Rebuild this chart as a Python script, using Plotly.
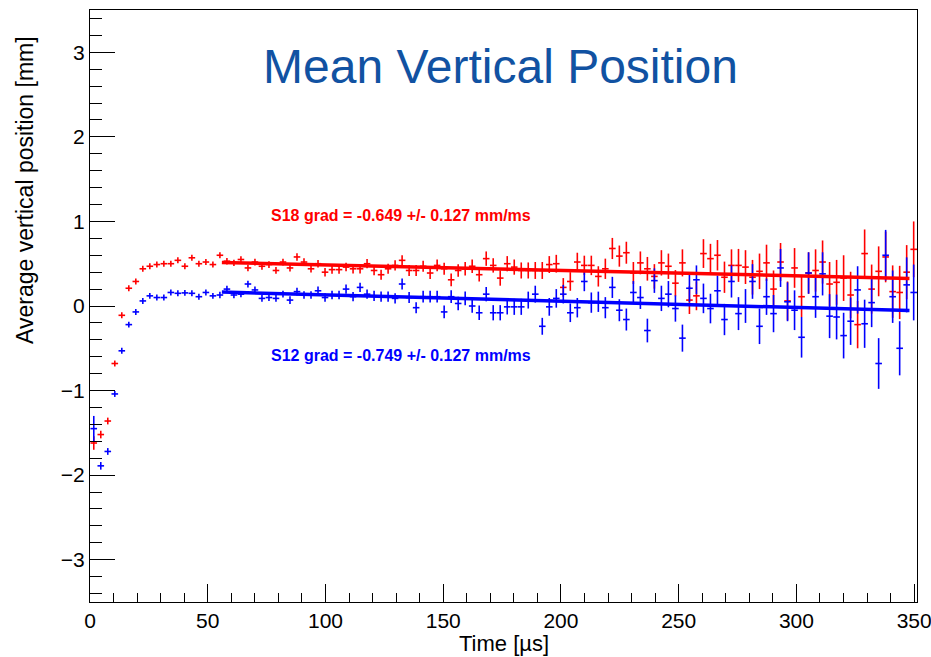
import plotly.graph_objects as go

# ---------------- data ----------------
bin_width = 2.976          # µs
first_center = 1.6         # µs
n_bins = 118

s18_vals = [
    -1.62, -1.52, -1.36, -0.68, -0.11, 0.21, 0.29, 0.44, 0.47, 0.49,
    0.50, 0.50, 0.54, 0.47, 0.57, 0.50, 0.52, 0.49, 0.60, 0.53,
    0.51, 0.55, 0.45, 0.52, 0.47, 0.49, 0.42, 0.52, 0.45, 0.58,
    0.52, 0.44, 0.50, 0.40, 0.43, 0.43, 0.46, 0.44, 0.44, 0.50,
    0.42, 0.37, 0.44, 0.48, 0.54, 0.42, 0.42, 0.47, 0.39, 0.48,
    0.44, 0.31, 0.42, 0.44, 0.47, 0.37, 0.56, 0.48, 0.33, 0.50,
    0.46, 0.42, 0.42, 0.42, 0.42, 0.49, 0.50, 0.22, 0.29, 0.52,
    0.48, 0.48, 0.35, 0.44, 0.68, 0.59, 0.63, 0.39, 0.51, 0.44,
    0.35, 0.51, 0.47, 0.27, 0.51, 0.07, 0.12, 0.62, 0.56, 0.60,
    0.34, 0.48, 0.48, 0.46, 0.34, 0.41, 0.51, 0.20, 0.52, 0.06,
    0.45, 0.11, 0.39, 0.42, 0.52, 0.26, 0.28, 0.33, 0.13, -0.22,
    0.62, 0.20, 0.41, 0.58, 0.17, 0.16, 0.40, 0.67,
]

s12_vals = [
    -1.45, -1.89, -1.72, -1.04, -0.53, -0.22, -0.07, 0.06, 0.12, 0.10,
    0.10, 0.16, 0.15, 0.155, 0.15, 0.11, 0.16, 0.12, 0.13, 0.20,
    0.13, 0.14, 0.26, 0.19, 0.09, 0.10, 0.09, 0.14, 0.07, 0.17,
    0.13, 0.13, 0.18, 0.10, 0.13, 0.13, 0.20, 0.11, 0.22, 0.14,
    0.12, 0.11, 0.11, 0.09, 0.26, 0.10, -0.02, 0.11, 0.11, 0.11,
    -0.07, 0.11, 0.03, 0.09, 0.00, -0.08, 0.14, -0.08, -0.08, -0.01,
    -0.01, -0.01, 0.07, 0.14, -0.24, -0.01, 0.09, 0.14, -0.08, -0.02,
    0.29, 0.04, 0.05, -0.02, 0.22, -0.05, -0.16, 0.16, 0.10, -0.29,
    0.30, 0.09, 0.14, -0.03, -0.38, 0.21, 0.31, 0.09, -0.03, 0.18,
    -0.16, 0.29, -0.09, 0.00, 0.29, -0.24, 0.11, -0.09, 0.45, 0.05,
    -0.05, -0.37, 0.39, 0.11, 0.38, -0.12, -0.13, -0.35, -0.18, 0.19,
    -0.21, 0.04, -0.68, 0.60, 0.11, -0.50, 0.25, 0.16,
]

s18_err = [
    0.08, 0.045, 0.04, 0.035, 0.035, 0.035, 0.035, 0.035, 0.035, 0.035,
    0.035, 0.035, 0.035, 0.035, 0.035, 0.035, 0.035, 0.035, 0.035, 0.038,
    0.038, 0.038, 0.038, 0.04, 0.04, 0.04, 0.04, 0.04, 0.042, 0.045,
    0.045, 0.045, 0.045, 0.05, 0.05, 0.05, 0.05, 0.055, 0.055, 0.055,
    0.055, 0.06, 0.06, 0.06, 0.06, 0.065, 0.065, 0.065, 0.07, 0.07,
    0.07, 0.075, 0.075, 0.08, 0.08, 0.08, 0.085, 0.085, 0.09, 0.09,
    0.09, 0.095, 0.095, 0.10, 0.10, 0.10, 0.105, 0.11, 0.11, 0.11,
    0.115, 0.115, 0.12, 0.12, 0.125, 0.125, 0.13, 0.13, 0.135, 0.14,
    0.145, 0.15, 0.15, 0.155, 0.16, 0.165, 0.17, 0.17, 0.175, 0.18,
    0.185, 0.19, 0.195, 0.20, 0.205, 0.21, 0.215, 0.22, 0.225, 0.23,
    0.235, 0.24, 0.245, 0.25, 0.255, 0.26, 0.265, 0.27, 0.275, 0.28,
    0.285, 0.29, 0.295, 0.30, 0.31, 0.315, 0.32, 0.33,
]

s12_err = [
    0.15, 0.045, 0.04, 0.035, 0.035, 0.035, 0.035, 0.035, 0.035, 0.035,
    0.035, 0.035, 0.035, 0.035, 0.035, 0.035, 0.035, 0.035, 0.038, 0.038,
    0.038, 0.038, 0.04, 0.04, 0.04, 0.04, 0.04, 0.04, 0.045, 0.045,
    0.045, 0.045, 0.05, 0.05, 0.05, 0.05, 0.055, 0.055, 0.055, 0.055,
    0.06, 0.06, 0.06, 0.06, 0.065, 0.065, 0.065, 0.07, 0.07, 0.07,
    0.075, 0.075, 0.08, 0.08, 0.08, 0.085, 0.085, 0.09, 0.09, 0.09,
    0.095, 0.095, 0.10, 0.10, 0.10, 0.105, 0.11, 0.11, 0.11, 0.115,
    0.115, 0.12, 0.12, 0.125, 0.125, 0.13, 0.13, 0.135, 0.135, 0.14,
    0.145, 0.15, 0.155, 0.155, 0.16, 0.165, 0.17, 0.175, 0.175, 0.18,
    0.185, 0.19, 0.195, 0.20, 0.205, 0.21, 0.215, 0.22, 0.225, 0.23,
    0.235, 0.24, 0.245, 0.25, 0.255, 0.26, 0.265, 0.27, 0.28, 0.28,
    0.285, 0.29, 0.30, 0.30, 0.31, 0.32, 0.325, 0.33,
]

# linear fits (value at t=0 in mm, gradient in mm/µs), fit window in µs
fit_range = [56.0, 348.0]
s18_fit = {"p0": 0.551, "grad": -0.649e-3}
s12_fit = {"p0": 0.207, "grad": -0.749e-3}

s18_label = "S18 grad = -0.649 +/- 0.127 mm/ms"
s12_label = "S12 grad = -0.749 +/- 0.127 mm/ms"
title_text = "Mean Vertical Position"
x_title = "Time [µs]"
y_title = "Average vertical position [mm]"
x_tickvals = [0, 50, 100, 150, 200, 250, 300, 350]
y_tickvals = [-3, -2, -1, 0, 1, 2, 3]

RED = "#FF0000"
BLUE = "#0000FF"
FONT = "Liberation Sans, Arial, Helvetica, sans-serif"

times = [first_center + bin_width * i for i in range(n_bins)]

fig = go.Figure()


def points(vals, errs, color):
    return go.Scatter(
        x=times, y=vals, mode="markers",
        marker=dict(size=2, color="rgba(0,0,0,0)", line=dict(width=0)),
        error_y=dict(type="data", array=errs, color=color, thickness=1.6, width=0),
        error_x=dict(type="constant", value=1.4, color=color, thickness=1.6, width=0),
        showlegend=False, hoverinfo="x+y",
    )


def fit_line(fit, color):
    xs = fit_range
    ys = [fit["p0"] + fit["grad"] * x for x in xs]
    return go.Scatter(x=xs, y=ys, mode="lines", line=dict(color=color, width=3.5),
                      showlegend=False, hoverinfo="skip")


fig.add_trace(points(s18_vals, s18_err, RED))
fig.add_trace(points(s12_vals, s12_err, BLUE))
fig.add_trace(fit_line(s18_fit, RED))
fig.add_trace(fit_line(s12_fit, BLUE))

fig.update_layout(
    width=931, height=657,
    margin=dict(l=90, r=14, t=10, b=55),
    paper_bgcolor="white", plot_bgcolor="white",
    font=dict(family=FONT, color="black", size=21),
    showlegend=False,
)

fig.update_xaxes(
    range=[0, 351.2], tickmode="array", tickvals=x_tickvals,
    ticks="inside", ticklen=18, tickwidth=1, tickcolor="black",
    minor=dict(dtick=10, tick0=0, ticks="inside", ticklen=9, tickcolor="black", tickwidth=1),
    showline=True, linecolor="black", linewidth=1.2, mirror=True,
    showgrid=False, zeroline=False, tickfont=dict(size=21),
    ticklabeloverflow="allow", automargin=False,
)
fig.update_yaxes(
    range=[-3.5, 3.5], tickmode="array", tickvals=y_tickvals,
    ticks="inside", ticklen=25, tickwidth=1, tickcolor="black",
    minor=dict(dtick=0.2, tick0=0, ticks="inside", ticklen=12, tickcolor="black", tickwidth=1),
    showline=True, linecolor="black", linewidth=1.2, mirror=True,
    showgrid=False, zeroline=False, tickfont=dict(size=21), automargin=False,
)

fig.add_annotation(text=title_text, xref="paper", yref="paper", x=0.496, y=0.904,
                   xanchor="center", yanchor="middle", showarrow=False,
                   font=dict(size=48, color="#1152A2", family=FONT))
fig.add_annotation(text="<b>" + s18_label + "</b>", xref="paper", yref="paper",
                   x=(401 - 90) / 827, y=1 - (215 - 10) / 592,
                   xanchor="center", yanchor="middle", showarrow=False,
                   font=dict(size=16, color=RED, family=FONT))
fig.add_annotation(text="<b>" + s12_label + "</b>", xref="paper", yref="paper",
                   x=(401 - 90) / 827, y=1 - (355 - 10) / 592,
                   xanchor="center", yanchor="middle", showarrow=False,
                   font=dict(size=16, color=BLUE, family=FONT))
fig.add_annotation(text=x_title, xref="paper", yref="paper", x=0.5, y=-(643 - 602) / 592,
                   xanchor="center", yanchor="middle", showarrow=False,
                   font=dict(size=22, color="black", family=FONT))
fig.add_annotation(text=y_title, xref="paper", yref="paper", x=-(90 - 25) / 827,
                   y=1 - (190 - 10) / 592, xanchor="center", yanchor="middle",
                   textangle=-90, showarrow=False,
                   font=dict(size=23, color="black", family=FONT))

fig.write_html("out.html")
